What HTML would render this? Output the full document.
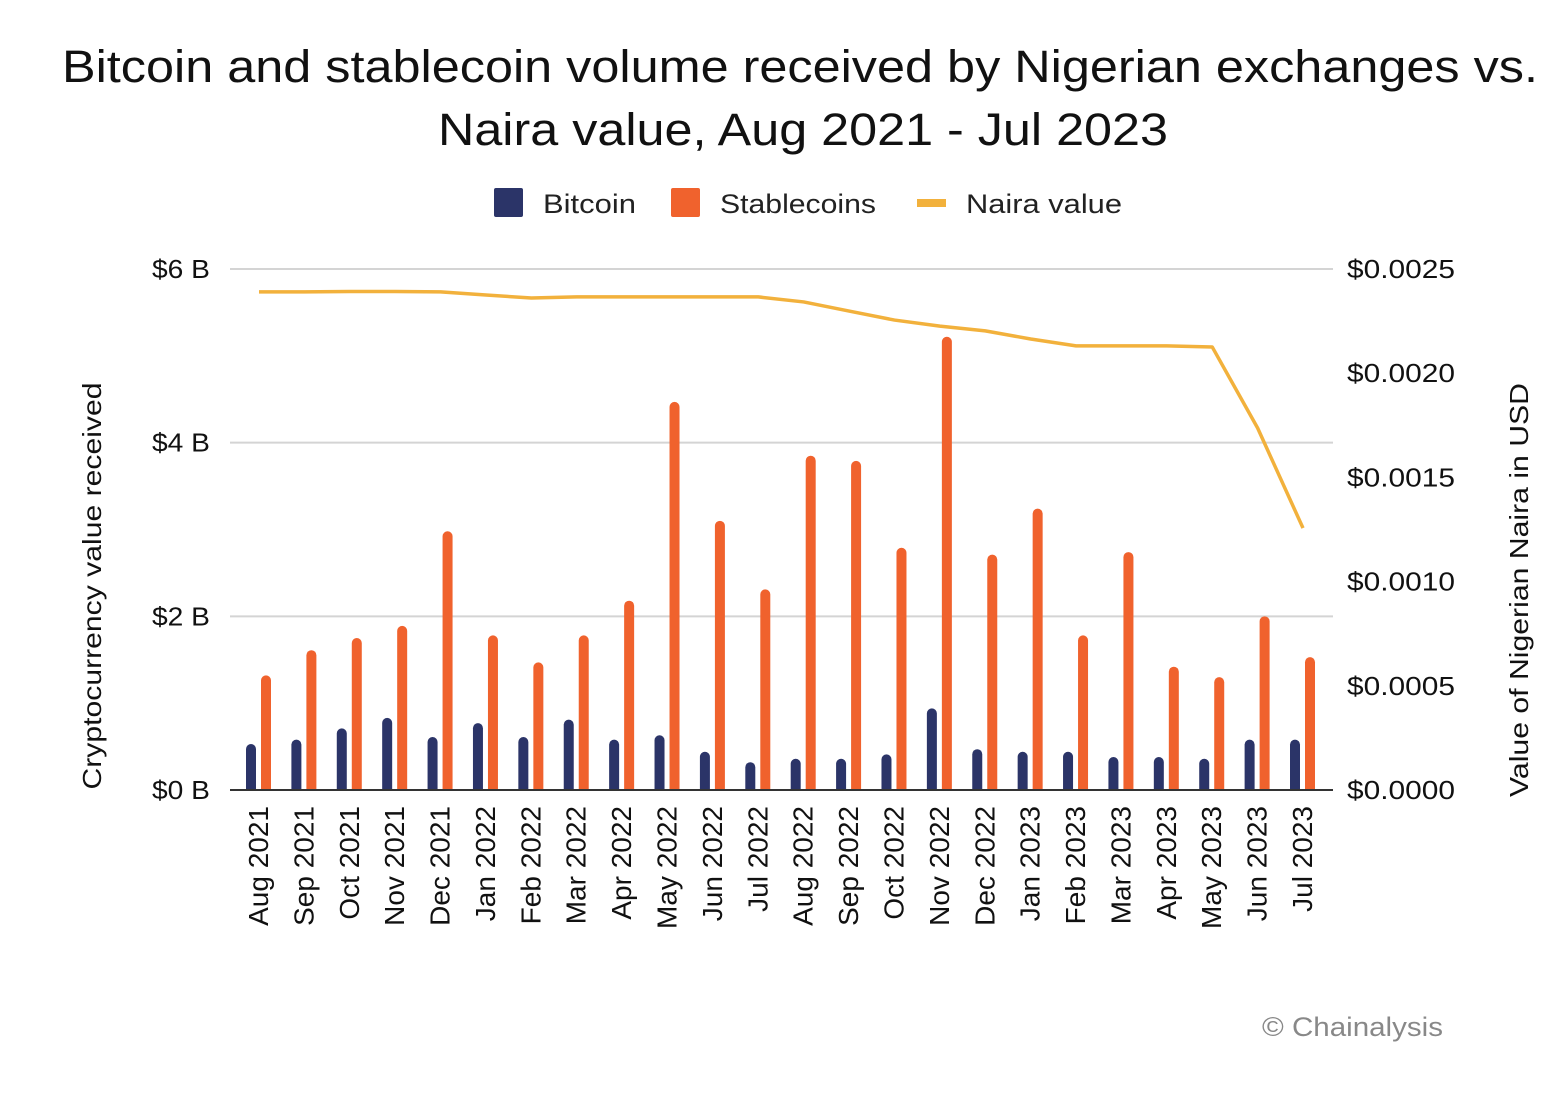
<!DOCTYPE html>
<html><head><meta charset="utf-8"><style>
html,body{margin:0;padding:0;background:#fff;}
svg{display:block;font-family:"Liberation Sans",sans-serif;}
</style></head><body>
<svg id="chart" width="1556" height="1094" viewBox="0 0 1556 1094">
<text x="800" y="82" text-anchor="middle" font-size="45" fill="#111" textLength="1476" lengthAdjust="spacingAndGlyphs">Bitcoin and stablecoin volume received by Nigerian exchanges vs.</text>
<text x="803" y="145" text-anchor="middle" font-size="45" fill="#111" textLength="730" lengthAdjust="spacingAndGlyphs">Naira value, Aug 2021 - Jul 2023</text>
<g>
<rect x="494" y="188" width="29" height="29" rx="2" fill="#2b3468"/>
<text x="543" y="213" font-size="27" fill="#222" textLength="93" lengthAdjust="spacingAndGlyphs">Bitcoin</text>
<rect x="671" y="188" width="29" height="29" rx="2" fill="#f0622d"/>
<text x="720" y="213" font-size="27" fill="#222" textLength="156" lengthAdjust="spacingAndGlyphs">Stablecoins</text>
<rect x="917" y="199" width="29" height="8" fill="#f2b13c"/>
<text x="966" y="213" font-size="27" fill="#222" textLength="156" lengthAdjust="spacingAndGlyphs">Naira value</text>
</g>
<g id="grid"></g><g id="bars"></g><g id="line"></g><g id="axes"></g>
<text transform="translate(101,586) rotate(-90)" text-anchor="middle" font-size="26" fill="#111" textLength="407" lengthAdjust="spacingAndGlyphs">Cryptocurrency value received</text>
<text transform="translate(1528,590) rotate(-90)" text-anchor="middle" font-size="26" fill="#111" textLength="414" lengthAdjust="spacingAndGlyphs">Value of Nigerian Naira in USD</text>
<text x="1443" y="1036" text-anchor="end" font-size="27" fill="#888" textLength="181" lengthAdjust="spacingAndGlyphs">© Chainalysis</text>
</svg>
<script>
const categories=["Aug 2021","Sep 2021","Oct 2021","Nov 2021","Dec 2021","Jan 2022","Feb 2022","Mar 2022","Apr 2022","May 2022","Jun 2022","Jul 2022","Aug 2022","Sep 2022","Oct 2022","Nov 2022","Dec 2022","Jan 2023","Feb 2023","Mar 2023","Apr 2023","May 2023","Jun 2023","Jul 2023"];
const bitcoin=[0.53,0.58,0.71,0.83,0.61,0.77,0.61,0.81,0.58,0.63,0.44,0.32,0.36,0.36,0.41,0.94,0.47,0.44,0.44,0.38,0.38,0.36,0.58,0.58];
const stablecoins=[1.32,1.61,1.75,1.89,2.98,1.78,1.47,1.78,2.18,4.47,3.10,2.31,3.85,3.79,2.79,5.22,2.71,3.24,1.78,2.74,1.42,1.30,2.00,1.53];
const naira=[0.00239,0.00239,0.002392,0.002392,0.00239,0.002375,0.002361,0.002366,0.002366,0.002366,0.002366,0.002366,0.002342,0.002298,0.002255,0.002226,0.002203,0.002164,0.002131,0.002131,0.002131,0.002126,0.001737,0.001257];
const leftTicks=[0,2,4,6];
const leftTickLabels=["$0 B","$2 B","$4 B","$6 B"];
const rightTicks=[0,0.0005,0.001,0.0015,0.002,0.0025];
const rightTickLabels=["$0.0000","$0.0005","$0.0010","$0.0015","$0.0020","$0.0025"];

const NS="http://www.w3.org/2000/svg";
const y0=790,yTop=269,xL=230,xR=1333;
function yL(v){return y0-(v/6)*(y0-yTop);}
function yR(v){return y0-(v/0.0025)*(y0-yTop);}
function xC(i){return 259+i*(1303-259)/(categories.length-1);}
function mk(tag,attrs,parent){const e=document.createElementNS(NS,tag);for(const k in attrs)e.setAttribute(k,attrs[k]);parent.appendChild(e);return e;}
const grid=document.getElementById('grid'),bars=document.getElementById('bars'),line=document.getElementById('line'),axes=document.getElementById('axes');
leftTicks.forEach((t,i)=>{
  if(t>0){const g=mk('line',{x1:xL,x2:xR,y1:yL(t),y2:yL(t),stroke:'#d4d4d4','stroke-width':2},grid);
  
  }
  const tx=mk('text',{x:210,y:yL(t)+9,'text-anchor':'end','font-size':26,fill:'#111',textLength:58,lengthAdjust:'spacingAndGlyphs'},axes);tx.textContent=leftTickLabels[i];
  
  
});
rightTicks.forEach((t,i)=>{
  const tx=mk('text',{x:1347,y:yR(t)+9,'font-size':26,fill:'#111',textLength:108,lengthAdjust:'spacingAndGlyphs'},axes);tx.textContent=rightTickLabels[i];
  
  
});
function bar(cx,v,color,name){
  const top=yL(v),w=10;
  const p=mk('path',{d:`M${cx-w/2},${y0} L${cx-w/2},${top+w/2} A${w/2},${w/2} 0 0 1 ${cx+w/2},${top+w/2} L${cx+w/2},${y0} Z`,fill:color},bars);
  
  
}
categories.forEach((c,i)=>{
  const x=xC(i);
  bar(x-8,bitcoin[i],'#2b3468','bar-bitcoin');
  bar(x+7,stablecoins[i],'#f0622d','bar-stablecoins');
  const tx=mk('text',{transform:`translate(${x+9},806) rotate(-90)`,'text-anchor':'end','font-size':28,fill:'#111'},axes);tx.textContent=c;
  
  
});
const pts=naira.map((v,i)=>xC(i)+','+yR(v)).join(' ');
const pl=mk('polyline',{points:pts,fill:'none',stroke:'#f2b13c','stroke-width':3.5,'stroke-linejoin':'round'},line);


const ax=mk('line',{x1:xL,x2:xR,y1:y0,y2:y0,stroke:'#333','stroke-width':2},axes);


</script>
</body></html>
